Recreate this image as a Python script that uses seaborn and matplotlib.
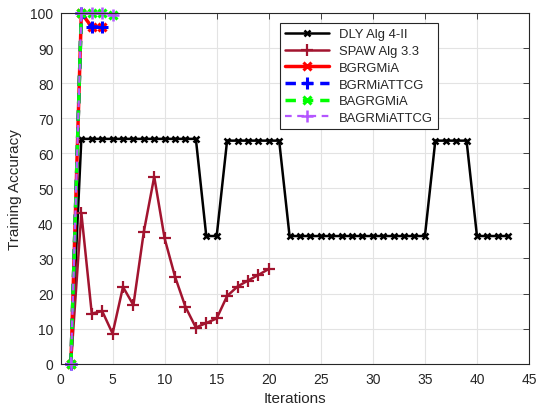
import matplotlib
matplotlib.use("Agg")
import matplotlib.pyplot as plt
import seaborn as sns
import pandas as pd

dly_x = list(range(1, 44))
dly_y = [0] + [64.1] * 12 + [36.4] * 2 + [63.6] * 6 + [36.4] * 14 + [63.6] * 4 + [36.4] * 4

spaw_x = list(range(1, 21))
spaw_y = [0, 43.0, 14.3, 15.0, 8.6, 21.9, 16.7, 37.6, 53.3, 35.7, 24.8, 16.2,
          10.3, 11.6, 12.9, 19.3, 22.0, 23.7, 25.3, 27.0]

bgrgmia_x = [1, 2, 3, 4]
bgrgmia_y = [0, 100, 96, 96]
bgrmiattcg_x = [1, 2, 3, 4]
bgrmiattcg_y = [0, 100, 96, 96]
bagrgmia_x = [1, 2, 3, 4, 5]
bagrgmia_y = [0, 100, 100, 100, 99.5]
bagrmiattcg_x = [1, 2, 3, 4, 5]
bagrmiattcg_y = [0, 100, 100, 100, 99.5]

labels = ["DLY Alg 4-II", "SPAW Alg 3.3", "BGRGMiA", "BGRMiATTCG", "BAGRGMiA", "BAGRMiATTCG"]
xs = [dly_x, spaw_x, bgrgmia_x, bgrmiattcg_x, bagrgmia_x, bagrmiattcg_x]
ys = [dly_y, spaw_y, bgrgmia_y, bgrmiattcg_y, bagrgmia_y, bagrmiattcg_y]

styles = [
    dict(color="black", marker="x", linestyle="-", lw=1.8, ms=5, mew=1.8),
    dict(color="#A2142F", marker="+", linestyle="-", lw=1.8, ms=8, mew=1.6),
    dict(color="#FF0000", marker="x", linestyle="-", lw=2.5, ms=6, mew=2.2),
    dict(color="#0000FF", marker="+", linestyle=(0, (3.0, 2.0)), lw=2.5, ms=8, mew=2.2),
    dict(color="#00FF00", marker="x", linestyle=(0, (3.0, 2.0)), lw=2.5, ms=6, mew=2.2),
    dict(color="#B455FF", marker="+", linestyle=(0, (3.0, 2.5)), lw=1.6, ms=8, mew=1.8),
]

sns.set_style("whitegrid")
plt.rcParams['font.family'] = ['Liberation Sans', 'DejaVu Sans']

fig = plt.figure(figsize=(5.38, 4.10), dpi=100)
ax = fig.add_axes([0.1125, 0.1105, 0.8708, 0.8554])

for x, y, lab, st in zip(xs, ys, labels, styles):
    df = pd.DataFrame({"x": x, "y": y})
    sns.lineplot(data=df, x="x", y="y", ax=ax, label=lab, color=st["color"],
                 marker=st["marker"], linestyle=st["linestyle"], linewidth=st["lw"],
                 markersize=st["ms"], markeredgewidth=st["mew"],
                 markeredgecolor=st["color"], markerfacecolor=st["color"],
                 clip_on=False)

ax.set_xlim(0, 45)
ax.set_ylim(0, 100)
ax.set_xticks(range(0, 46, 5))
ax.set_yticks(range(0, 101, 10))
ax.set_xlabel("Iterations", fontsize=11, color="#262626")
ax.set_ylabel("Training Accuracy", fontsize=11, color="#262626")
ax.xaxis.set_label_coords(0.5, -0.098)
ax.yaxis.set_label_coords(-0.097, 0.5)
ax.xaxis.label.set_va("center")
ax.yaxis.label.set_va("center")
ax.tick_params(axis="both", labelsize=10, colors="#262626", direction="in",
               length=4, width=0.6, labelcolor="#262626")
ax.tick_params(axis="x", pad=6)
ax.tick_params(axis="y", pad=5)
ax.tick_params(top=True, right=True, labeltop=False, labelright=False)
ax.grid(True, color="#E3E3E3", linewidth=0.8)
ax.set_facecolor("white")
for s in ax.spines.values():
    s.set_visible(True)
    s.set_color("#262626")
    s.set_linewidth(0.8)

leg = ax.legend(loc="upper left", bbox_to_anchor=(0.455, 0.99), fontsize=9.4,
                handlelength=3.3, frameon=True, fancybox=False, framealpha=1,
                edgecolor="#262626", borderpad=0.4, labelspacing=0.35,
                handletextpad=0.8)
leg.get_frame().set_linewidth(0.8)
leg.set_zorder(10)

fig.savefig("out.png", dpi=100)
